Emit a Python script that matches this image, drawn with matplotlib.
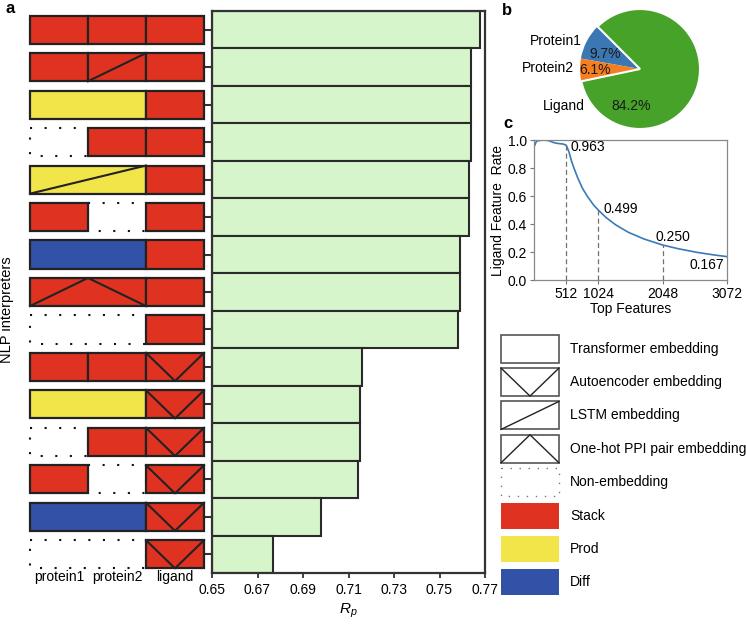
import matplotlib
matplotlib.use('Agg')
import matplotlib.pyplot as plt
from matplotlib.patches import Rectangle
from matplotlib.lines import Line2D

plt.rcParams['font.family'] = ['Liberation Sans', 'DejaVu Sans']
plt.rcParams['font.size'] = 10
plt.rcParams['mathtext.fontset'] = 'custom'
plt.rcParams['mathtext.rm'] = 'Liberation Sans'
plt.rcParams['mathtext.it'] = 'Liberation Sans:italic'

# ---------------- data ----------------
rp_values = [0.768, 0.764, 0.764, 0.764, 0.763, 0.763, 0.759, 0.759, 0.758,
             0.716, 0.715, 0.715, 0.714, 0.698, 0.677]
protein_op = ['Stack', 'Stack', 'Prod', 'Stack', 'Prod', 'Stack', 'Diff', 'Stack', 'Stack',
              'Stack', 'Prod', 'Stack', 'Stack', 'Diff', 'Stack']
protein1_emb = ['Transformer', 'Transformer', 'Transformer', 'Non', 'LSTM', 'Transformer',
                'Transformer', 'One-hot', 'Non', 'Transformer', 'Transformer', 'Non',
                'Transformer', 'Transformer', 'Non']
protein2_emb = ['Transformer', 'LSTM', 'Transformer', 'Transformer', 'LSTM', 'Non',
                'Transformer', 'One-hot', 'Non', 'Transformer', 'Transformer', 'Transformer',
                'Non', 'Transformer', 'Non']
ligand_emb = ['Transformer', 'Transformer', 'Transformer', 'Transformer', 'Transformer',
              'Transformer', 'Transformer', 'Transformer', 'Transformer', 'Autoencoder',
              'Autoencoder', 'Autoencoder', 'Autoencoder', 'Autoencoder', 'Autoencoder']
column_labels = ['protein1', 'protein2', 'ligand']
rp_ticks = [0.65, 0.67, 0.69, 0.71, 0.73, 0.75, 0.77]

pie_labels = ['Protein1', 'Protein2', 'Ligand']
pie_values = [9.7, 6.1, 84.2]

top_features = [1, 16, 32, 48, 100, 156, 236, 317, 370, 466, 512, 530, 560, 600, 640,
                700, 772, 850, 950, 1024, 1150, 1300, 1500, 1750, 2048, 2300, 2600,
                2850, 3072]
ligand_rate = [0.955, 0.965, 0.985, 0.993, 0.997, 1.0, 0.995, 0.981, 0.976, 0.971,
               0.963, 0.945, 0.91, 0.845, 0.795, 0.725, 0.655, 0.597, 0.535, 0.499,
               0.445, 0.394, 0.341, 0.293, 0.250, 0.223, 0.197, 0.180, 0.167]
marked_features = [512, 1024, 2048, 3072]
marked_rates = [0.963, 0.499, 0.250, 0.167]
feature_ticks = [512, 1024, 2048, 3072]
rate_ticks = [0.0, 0.2, 0.4, 0.6, 0.8, 1.0]

legend_embed = ['Transformer', 'Autoencoder', 'LSTM', 'One-hot', 'Non']
legend_embed_text = ['Transformer embedding', 'Autoencoder embedding', 'LSTM embedding',
                     'One-hot PPI pair embedding', 'Non-embedding']
legend_ops = ['Stack', 'Prod', 'Diff']

# ---------------- styles ----------------
op_colors = {'Stack': '#e03221', 'Prod': '#f2e54a', 'Diff': '#3152a6'}
bar_color = '#d7f5ca'
dark = '#222222'
pie_colors = ['#3b77b3', '#f37f22', '#47a22a']
line_color = '#3a7ab8'

W, H = 746, 624
fig = plt.figure(figsize=(W / 100, H / 100), dpi=100)


def ax_px(left, top, right, bottom):
    return fig.add_axes([left / W, 1 - bottom / H, (right - left) / W, (bottom - top) / H])


def draw_pattern(ax, x0, x1, y0, y1, emb, lw, color):
    # y0 = visual top, y1 = visual bottom (inverted axis)
    xm = (x0 + x1) / 2
    if emb == 'LSTM':
        ax.add_line(Line2D([x0, x1], [y1, y0], lw=lw, color=color, clip_on=False, zorder=3))
    elif emb == 'Autoencoder':
        ax.add_line(Line2D([x0, xm, x1], [y0, y1, y0], lw=lw, color=color, clip_on=False, zorder=3))
    elif emb == 'One-hot':
        ax.add_line(Line2D([x0, xm, x1], [y1, y0, y1], lw=lw, color=color, clip_on=False, zorder=3))


def draw_box(ax, x0, x1, yc, h, emb, face, ec, lw, plw, dot_lw, dot_pat, dot_color):
    y0, y1 = yc - h / 2, yc + h / 2
    if emb == 'Non':
        ax.add_patch(Rectangle((x0, y0), x1 - x0, h, fill=False, ec=dot_color, lw=dot_lw,
                               ls=(0, dot_pat), clip_on=False, zorder=1))
    else:
        ax.add_patch(Rectangle((x0, y0), x1 - x0, h, fc=face, ec=ec, lw=lw,
                               clip_on=False, zorder=2))
        draw_pattern(ax, x0, x1, y0, y1, emb, plw, dark)


# ---------------- panel a: bars ----------------
n = len(rp_values)
ax = ax_px(212, 11, 485, 573)
ax.barh(range(n), [v - rp_ticks[0] for v in rp_values], left=rp_ticks[0], height=1.0,
        color=bar_color, edgecolor='#2a2a2a', linewidth=1.5)
ax.set_xlim(rp_ticks[0], rp_ticks[-1])
ax.set_ylim(n - 0.5, -0.5)
ax.set_xticks(rp_ticks)
ax.set_xticklabels([f'{t:.2f}' for t in rp_ticks])
ax.set_yticks(range(n))
ax.set_yticklabels([])
ax.tick_params(axis='y', length=5.5, width=1.5, color='#333333', direction='out')
ax.tick_params(axis='x', length=3.5, width=1.3, color='#333333', labelsize=10, pad=4)
for s in ax.spines.values():
    s.set_linewidth(1.6)
    s.set_color('#333333')
ax.set_xlabel('$R_p$', fontsize=11, labelpad=3)

# icons
axi = ax_px(30, 11, 204, 573)
axi.set_xlim(0, 3)
axi.set_ylim(n - 0.5, -0.5)
axi.axis('off')
h = 0.75
for i in range(n):
    op, e1, e2, el = protein_op[i], protein1_emb[i], protein2_emb[i], ligand_emb[i]
    merged = op != 'Stack' or (e1 == e2 and e1 in ('One-hot', 'Non'))
    kw = dict(ec=dark, lw=1.6, plw=1.5, dot_lw=1.5, dot_pat=(1, 6), dot_color='#111111')
    if merged:
        draw_box(axi, 0, 2, i, h, e1, op_colors[op], **kw)
    else:
        draw_box(axi, 0, 1, i, h, e1, op_colors[op], **kw)
        draw_box(axi, 1, 2, i, h, e2, op_colors[op], **kw)
    draw_box(axi, 2, 3, i, h, el, op_colors['Stack'], **kw)
for j, lab in enumerate(column_labels):
    axi.text(j + 0.5, n - 0.5 + 0.11, lab, ha='center', va='center', fontsize=10)

fig.text(7 / W, 1 - 310 / H, 'NLP interpreters', rotation=90, ha='center', va='center',
         fontsize=10.5)

# ---------------- panel b: pie ----------------
axp = ax_px(565, -6, 715, 144)
wedges, _ = axp.pie(pie_values, colors=pie_colors, startangle=135, counterclock=True,
                    radius=1.0)
wedges[2].set_edgecolor('white')
wedges[2].set_linewidth(1.5)
axp.set_xlim(-1.25, 1.25)
axp.set_ylim(-1.25, 1.25)
axp.set_aspect('equal')
label_pos = [(-0.97, 0.47), (-1.1, 0.01), (-0.92, -0.62)]
pct_pos = [(-0.58, 0.245), (-0.75, -0.02), (-0.15, -0.62)]
for lab, val, (lx, ly), (px, py) in zip(pie_labels, pie_values, label_pos, pct_pos):
    axp.text(lx, ly, lab, ha='right', va='center', fontsize=10)
    axp.text(px, py, f'{val:.1f}%', ha='center', va='center', fontsize=10, color='#1a1a1a')

# ---------------- panel c: line ----------------
axc = ax_px(534, 140, 727, 280)
axc.plot(top_features, ligand_rate, color=line_color, lw=1.2)
for fx, fy in zip(marked_features[:3], marked_rates[:3]):
    axc.plot([fx, fx], [0, fy], ls=(0, (4, 2.5)), color='#707070', lw=0.9)
text_pos = [(585, 0.948), (1100, 0.51), (1935, 0.31), (2470, 0.107)]
for (tx, ty), r in zip(text_pos, marked_rates):
    axc.text(tx, ty, f'{r:.3f}', ha='left', va='center', fontsize=10)
axc.set_xlim(0, feature_ticks[-1])
axc.set_ylim(0, 1)
axc.set_xticks(feature_ticks)
axc.set_yticks(rate_ticks)
axc.set_yticklabels([f'{t:.1f}' for t in rate_ticks])
axc.tick_params(length=3, width=0.8, color='#777777', labelsize=10, pad=2)
for s in axc.spines.values():
    s.set_linewidth(0.9)
    s.set_color('#888888')
axc.set_ylabel('Ligand Feature  Rate', fontsize=10, labelpad=2)
axc.set_xlabel('Top Features', fontsize=10, labelpad=1)

# ---------------- legend ----------------
axl = ax_px(501, 332, 746, 599)
axl.set_xlim(0, 245)
axl.set_ylim(7.5, -0.5)
axl.axis('off')
hl = 0.84
row = 0
for emb, txt in zip(legend_embed, legend_embed_text):
    draw_box(axl, 0, 58, row, hl, emb, 'white', ec='#555555', lw=1.2, plw=1.0,
             dot_lw=1.0, dot_pat=(1, 5.5), dot_color='#777777')
    axl.text(69, row, txt, ha='left', va='center', fontsize=10)
    row += 1
for op in legend_ops:
    axl.add_patch(Rectangle((0, row - 0.78 / 2), 58, 0.78, fc=op_colors[op], ec='none',
                            clip_on=False))
    axl.text(69, row, op, ha='left', va='center', fontsize=10)
    row += 1

# ---------------- panel letters ----------------
fig.text(5 / W, 1 - 13 / H, 'a', fontsize=12, fontweight='bold', va='baseline')
fig.text(502 / W, 1 - 15 / H, 'b', fontsize=12, fontweight='bold', va='baseline')
fig.text(503 / W, 1 - 128 / H, 'c', fontsize=12, fontweight='bold', va='baseline')

fig.savefig('out.png', dpi=100)
